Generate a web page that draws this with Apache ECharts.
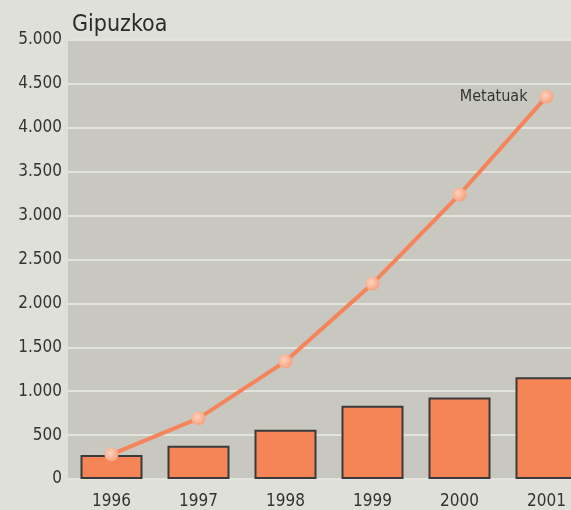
<!DOCTYPE html>
<html>
<head>
<meta charset="utf-8">
<script src="https://cdn.jsdelivr.net/npm/echarts@6/dist/echarts.min.js"></script>
<style>
html,body{margin:0;padding:0;background:#e0e0db;overflow:hidden;}
#chart{width:590px;height:510px;}
</style>
</head>
<body>
<div id="chart"></div>
<script>
var years = ['1996', '1997', '1998', '1999', '2000', '2001'];
var urtekoak = [272, 378, 560, 835, 928, 1160];   // barrak
var metatuak = [280, 690, 1340, 2225, 3240, 4355]; // lerroa
var fontBase = '"DejaVu Sans Condensed", "Liberation Sans Narrow", sans-serif';

var myChart = echarts.init(document.getElementById('chart'), null, {renderer: 'canvas'});

//puntuen kolorea
var dotColor = new echarts.graphic.RadialGradient(0.4, 0.4, 0.6, [
    {offset: 0, color: '#fcd3bd'},
    {offset: 1, color: '#f7a27f'}
]);

var option = {
    backgroundColor: '#e0e0db',
    animation: false,
    title: {
        text: 'Gipuzkoa',
        left: 67,
        top: 9,
        textStyle: {fontFamily: fontBase, fontSize: 23, fontWeight: 'normal', color: '#2b2b2b'}
    },
    grid: {
        left: 68,
        top: 40,
        right: 0,
        bottom: 30,
        show: true,
        backgroundColor: '#c8c8c0',
        borderWidth: 0
    },
    xAxis: {
        type: 'category',
        data: years,
        axisLine: {show: false},
        axisTick: {show: false},
        axisLabel: {margin: 14, fontFamily: fontBase, fontSize: 17, color: '#333'}
    },
    yAxis: {
        type: 'value',
        min: 0,
        max: 5000,
        interval: 500,
        axisLine: {show: false},
        axisTick: {show: false},
        splitLine: {lineStyle: {color: '#e4e4df', width: 2}},
        axisLabel: {
            margin: 6,
            fontFamily: fontBase,
            fontSize: 17,
            color: '#333',
            formatter: function (v) {
                return String(v).replace(/\B(?=(\d{3})+(?!\d))/g, '.');
            }
        }
    },
    series: [
        {
            name: 'Urtekoak',
            type: 'bar',
            data: urtekoak,
            barWidth: 62,
            itemStyle: {color: '#f58457', borderColor: '#3a3a3a', borderWidth: 2}
        },
        {
            name: 'Metatuak',
            type: 'line',
            data: metatuak.map(function (v, i) {
                if (i == metatuak.length - 1) {
                    return {
                        value: v,
                        label: {
                            show: true,
                            position: 'left',
                            distance: 12,
                            formatter: 'Metatuak',
                            fontFamily: fontBase,
                            fontSize: 16,
                            color: '#333'
                        }
                    };
                }
                return v;
            }),
            symbol: 'circle',
            symbolSize: 14,
            lineStyle: {color: '#f5845a', width: 4},
            itemStyle: {color: dotColor, borderWidth: 0}
        }
    ]
};

myChart.setOption(option);
</script>
</body>
</html>
